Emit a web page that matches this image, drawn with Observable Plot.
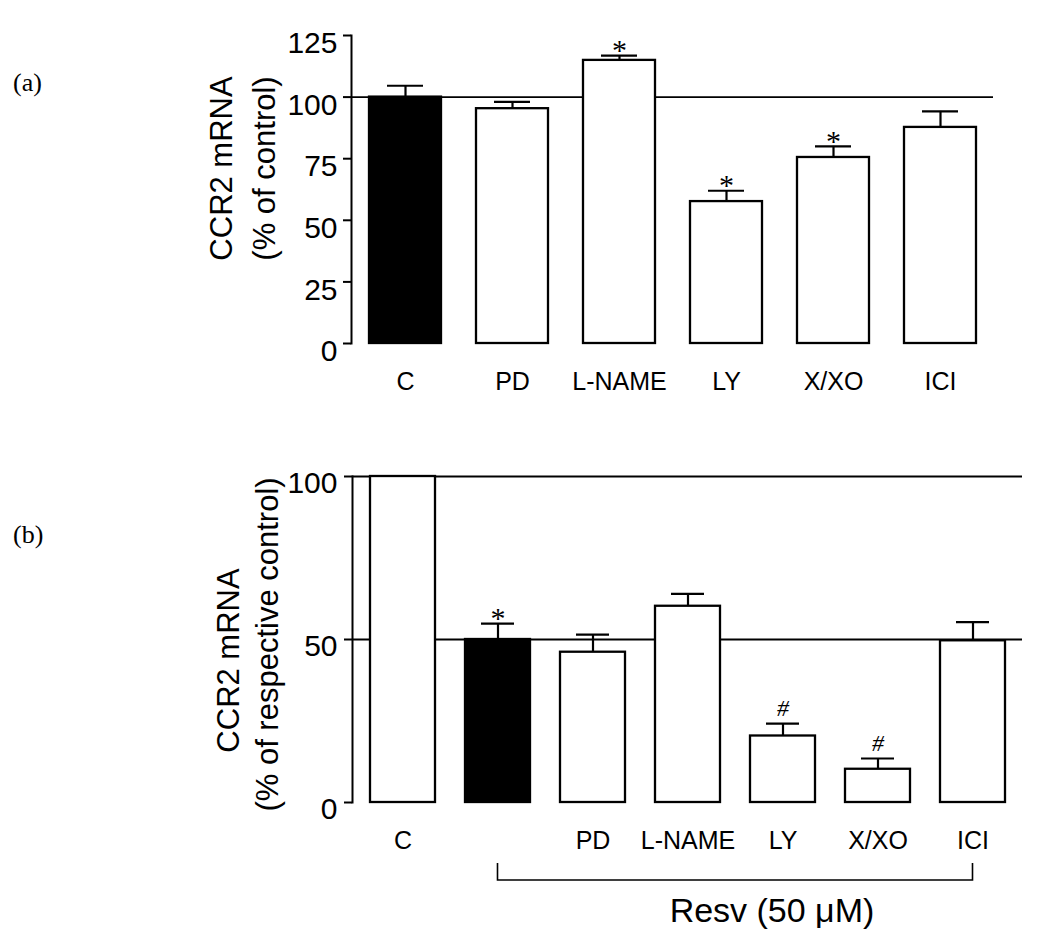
<!DOCTYPE html>
<html><head><meta charset="utf-8">
<script src="https://cdn.jsdelivr.net/npm/d3@7"></script>
<script src="https://cdn.jsdelivr.net/npm/@observablehq/plot@0.6"></script>
<style>
body{margin:0;background:#fff;}
#fig{position:relative;width:1050px;height:952px;background:#fff;overflow:hidden;}
#fig svg{position:absolute;left:0;z-index:1;}
.panel{position:absolute;z-index:2;font-family:"Liberation Serif","Times New Roman",serif;font-size:26px;line-height:26px;color:#000;}
</style></head><body>
<div id="fig">
<div class="panel" style="left:13px;top:70px">(a)</div>
<div class="panel" style="left:13px;top:522px">(b)</div>
</div>
<script>
// ---- Panel (a) data ----
const categoriesA = ["C", "PD", "L-NAME", "LY", "X/XO", "ICI"];
const meanA = [100, 95.3, 114.9, 57.6, 75.5, 87.7];
const semA = [4.6, 2.8, 1.9, 4.4, 4.5, 6.5];
const sigA = ["", "", "*", "*", "*", ""];
const yTicksA = [0, 25, 50, 75, 100, 125];
const yTitleA = ["CCR2 mRNA", "(% of control)"];
const highlightA = "C";

// ---- Panel (b) data ----
const categoriesB = ["C", "Resv", "PD", "L-NAME", "LY", "X/XO", "ICI"];
const tickLabelsB = ["C", "", "PD", "L-NAME", "LY", "X/XO", "ICI"];
const meanB = [100, 50, 46.1, 60.2, 20.4, 10.2, 49.6];
const semB = [0, 4.9, 5.4, 3.8, 3.8, 3.3, 5.7];
const sigB = ["", "*", "", "", "#", "#", ""];
const yTicksB = [0, 50, 100];
const yTitleB = ["CCR2 mRNA", "(% of respective control)"];
const highlightB = "Resv";
const bracketFrom = "Resv", bracketTo = "ICI";
const bracketLabel = "Resv (50 \u03BCM)";

const sans = "'Liberation Sans', Arial, Helvetica, sans-serif";
const serif = "'Liberation Serif', 'Times New Roman', serif";

const rowsA = categoriesA.map((c, i) => ({cat: c, mean: meanA[i], sem: semA[i], sig: sigA[i]}));
const rowsB = categoriesB.map((c, i) => ({cat: c, mean: meanB[i], sem: semB[i], sig: sigB[i]}));

function panel(rows, cats, opts) {
  const err = rows.filter(d => d.sem > 0);
  const sig = rows.filter(d => d.sig);
  return Plot.plot({
    width: 1050, height: opts.height,
    marginTop: opts.mt, marginBottom: opts.mb, marginLeft: opts.ml, marginRight: opts.mr,
    style: {background: "white", color: "black", fontFamily: sans},
    x: {domain: cats, paddingInner: opts.pi, paddingOuter: opts.pi / 2},
    y: {domain: opts.ydomain},
    marks: [
      Plot.ruleY(opts.refs, {stroke: "black", strokeWidth: 1.8}),
      Plot.ruleX(err, {x: "cat", y1: "mean", y2: d => d.mean + d.sem, stroke: "black", strokeWidth: 2.2}),
      Plot.tickY(err, {x: "cat", y: d => d.mean + d.sem, stroke: "black", strokeWidth: 2.2, insetLeft: opts.cap, insetRight: opts.cap}),
      Plot.barY(rows.filter(d => d.cat !== opts.highlight), {x: "cat", y: "mean", fill: "white", stroke: "black", strokeWidth: 2.3}),
      Plot.barY(rows.filter(d => d.cat === opts.highlight), {x: "cat", y: "mean", fill: "black", stroke: "black", strokeWidth: 2.3}),
      Plot.text(sig.filter(d => d.sig === "*"), {x: "cat", y: d => d.mean + d.sem, text: "sig", lineAnchor: "middle", dy: -5, fontFamily: serif, fontSize: 30, fill: "black"}),
      Plot.text(sig.filter(d => d.sig === "#"), {x: "cat", y: d => d.mean + d.sem, text: "sig", lineAnchor: "middle", dy: -15, fontFamily: serif, fontStyle: "italic", fontSize: 24, fill: "black"}),
      Plot.frame({anchor: "left", stroke: "black", strokeWidth: 2}),
      Plot.axisY({ticks: opts.yticks, tickSize: 8, tickFormat: () => "", label: null, strokeWidth: 2}),
      Plot.axisY({ticks: opts.yticks, tickSize: 0, tickPadding: opts.tp, fontSize: 30, dy: opts.tdy, label: null}),
      Plot.axisX({tickSize: 0, tickPadding: 29, fontSize: 25, label: null, tickFormat: opts.fmt}),
      Plot.text([opts.title[0]], {frameAnchor: "left", rotate: -90, textAnchor: "middle", lineAnchor: "middle", dx: opts.t1dx, dy: opts.t1dy, fontSize: 31, fill: "black"}),
      Plot.text([opts.title[1]], {frameAnchor: "left", rotate: -90, textAnchor: "middle", lineAnchor: "middle", dx: opts.t2dx, dy: opts.t2dy, fontSize: 31, fill: "black"})
    ]
  });
}

const plotA = panel(rowsA, categoriesA, {
  height: 400, mt: 35, mb: 57, ml: 351, mr: 57, pi: 0.33, ydomain: [0, 125],
  refs: [100], cap: 18, highlight: highlightA, yticks: yTicksA, tp: 14, tdy: 8,
  fmt: d => d, title: yTitleA, t1dx: -129, t1dy: -21, t2dx: -86, t2dy: -21
});
plotA.style.top = "0px";

const plotB = panel(rowsB, categoriesB, {
  height: 552, mt: 76, mb: 150, ml: 352, mr: 28, pi: 0.32, ydomain: [0, 100],
  refs: [100, 50], cap: 16, highlight: highlightB, yticks: yTicksB, tp: 15, tdy: 7,
  fmt: d => tickLabelsB[categoriesB.indexOf(d)], title: yTitleB, t1dx: -123, t1dy: 21, t2dx: -84, t2dy: 5
});
plotB.style.top = "400px";

// bracket below panel (b), positioned through the plot's own scales
const sx = plotB.scale("x"), sy = plotB.scale("y");
const cx = k => sx.apply(k) + sx.bandwidth / 2;
const x1 = cx(bracketFrom), x2 = cx(bracketTo), y0 = sy.apply(0);
const svgB = d3.select(plotB);
svgB.append("path")
  .attr("d", `M${x1},${y0 + 61}V${y0 + 78}H${x2}V${y0 + 61}`)
  .attr("fill", "none").attr("stroke", "black").attr("stroke-width", 1.6);
svgB.append("text")
  .attr("x", (x1 + x2) / 2 + 37).attr("y", y0 + 120)
  .attr("text-anchor", "middle").attr("font-family", sans).attr("font-size", 34)
  .attr("fill", "black").text(bracketLabel);

document.getElementById("fig").append(plotA, plotB);
</script>
</body></html>
